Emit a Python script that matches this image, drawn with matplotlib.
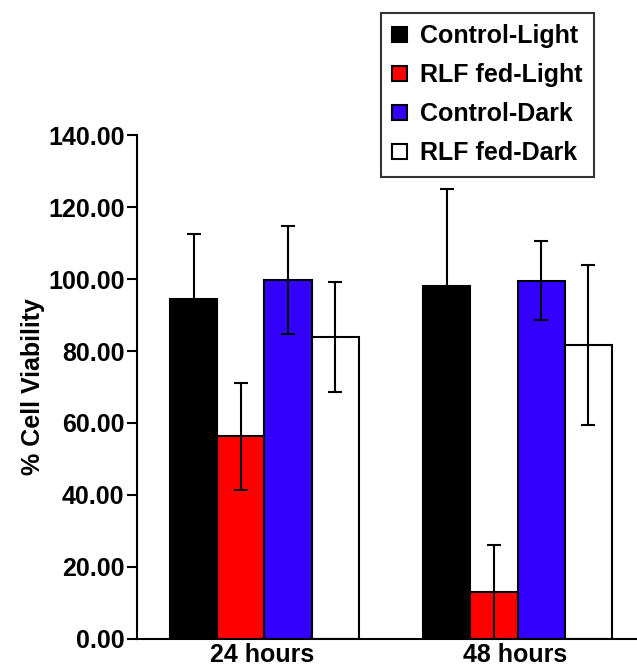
import numpy as np
import matplotlib.pyplot as plt

plt.rcParams['font.family'] = ['Liberation Sans', 'DejaVu Sans']
plt.rcParams['font.weight'] = 'bold'

groups = ["24 hours", "48 hours"]
series = ["Control-Light", "RLF fed-Light", "Control-Dark", "RLF fed-Dark"]
values = {
    "Control-Light": [94.4, 98.0],
    "RLF fed-Light": [56.3, 13.0],
    "Control-Dark": [99.8, 99.5],
    "RLF fed-Dark": [83.9, 81.7],
}
errors = {
    "Control-Light": [18.0, 27.0],
    "RLF fed-Light": [14.8, 13.0],
    "Control-Dark": [15.0, 11.0],
    "RLF fed-Dark": [15.4, 22.3],
}
colors = ["#000000", "#ff0000", "#3300ff", "#ffffff"]
yticks = [0, 20, 40, 60, 80, 100, 120, 140]

fig = plt.figure(figsize=(6.37, 6.69), dpi=100)
ax = fig.add_axes([0.215, 0.045, 0.785, 0.753])

x = np.arange(len(groups))
w = 0.186
for i, s in enumerate(series):
    pos = x + (i - 1.5) * w + 0.01
    ax.bar(pos, values[s], w, color=colors[i], edgecolor="black", linewidth=1.5,
           label=s, zorder=2)
    ax.errorbar(pos, values[s], yerr=errors[s], fmt="none", ecolor="black",
                elinewidth=1.5, capsize=5, capthick=1.5, zorder=3)

ax.set_xlim(-0.494, 1.482)
ax.set_ylim(0, 140)
ax.set_yticks(yticks)
ax.set_yticklabels([f"{v:.2f}" for v in yticks])
ax.set_xticks(x)
ax.set_xticklabels(groups)
ax.tick_params(axis="y", length=7, width=1.5, labelsize=18, pad=2)
ax.tick_params(axis="x", length=0, labelsize=18, pad=3)
for t in ax.get_xticklabels() + ax.get_yticklabels():
    t.set_fontweight("bold")
ax.spines["top"].set_visible(False)
ax.spines["right"].set_visible(False)
ax.spines["left"].set_linewidth(1.5)
ax.spines["bottom"].set_linewidth(1.5)
ax.set_ylabel("% Cell Viability", fontsize=18, fontweight="bold", labelpad=2)

leg = fig.legend(loc="upper left", bbox_to_anchor=(381 / 637, 1 - 13 / 669),
                 fontsize=18, frameon=True, fancybox=False, edgecolor="black",
                 handlelength=0.6, handleheight=0.6, handletextpad=0.5,
                 labelspacing=0.6, borderpad=0.45, borderaxespad=0)
leg.get_frame().set_linewidth(1.5)
for t in leg.get_texts():
    t.set_fontweight("bold")

fig.savefig("out.png", dpi=100)
